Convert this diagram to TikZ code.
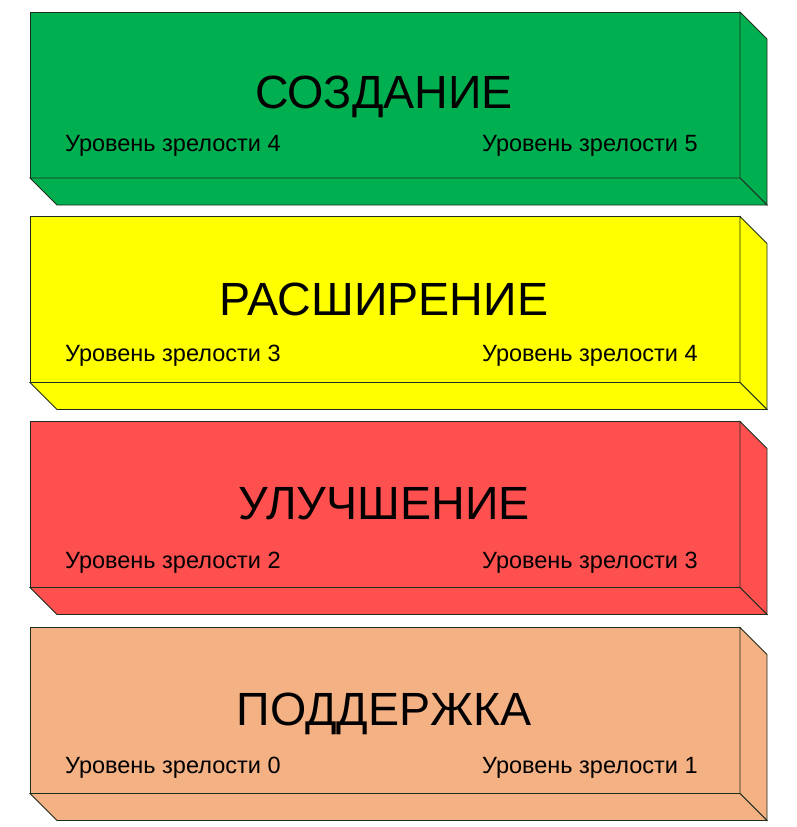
\documentclass[tikz,border=0pt]{standalone}
\usepackage{fontspec}
\setmainfont{Liberation Sans}
\definecolor{cgreen}{HTML}{00B050}
\definecolor{cyellow}{HTML}{FFFF00}
\definecolor{cred}{HTML}{FF5050}
\definecolor{cpeach}{HTML}{F4B183}
\definecolor{edgecol}{HTML}{1E2E1E}
\begin{document}
\begin{tikzpicture}[x=1pt,y=-1pt,
  edge/.style={draw=edgecol, line width=0.8pt, line join=miter},
  titletext/.style={font=\fontsize{46.6}{50}\selectfont, anchor=base, inner sep=0pt},
  leveltext/.style={font=\fontsize{23.5}{26}\selectfont, anchor=base west, inner sep=0pt}]
\useasboundingbox (0,0) rectangle (797,827);
\foreach \i/\t/\c/\ttl/\a/\b/\ty/\ly in {1/12/cgreen/СОЗДАНИЕ/4/5/96/139.7, 2/216.5/cyellow/РАСШИРЕНИЕ/3/4/98.5/145.2, 3/421.5/cred/УЛУЧШЕНИЕ/2/3/98/146.8, 4/627.5/cpeach/ПОДДЕРЖКА/0/1/97.5/145.8}{
  \draw[edge, fill=\c] (30,\t) rectangle (740,{\t+166});
  \draw[edge, fill=\c] (740,\t) -- (767,{\t+27}) -- (767,{\t+193}) -- (740,{\t+166}) -- cycle;
  \draw[edge, fill=\c] (30,{\t+166}) -- (740,{\t+166}) -- (767,{\t+193}) -- (57,{\t+193}) -- cycle;
  \node[titletext] (title\i) at (384,{\t+\ty}) {\ttl};
  \node[leveltext] (left\i) at (65,{\t+\ly}) {Уровень зрелости \a};
  \node[leveltext] (right\i) at (482,{\t+\ly}) {Уровень зрелости \b};
}
\end{tikzpicture}
\end{document}
